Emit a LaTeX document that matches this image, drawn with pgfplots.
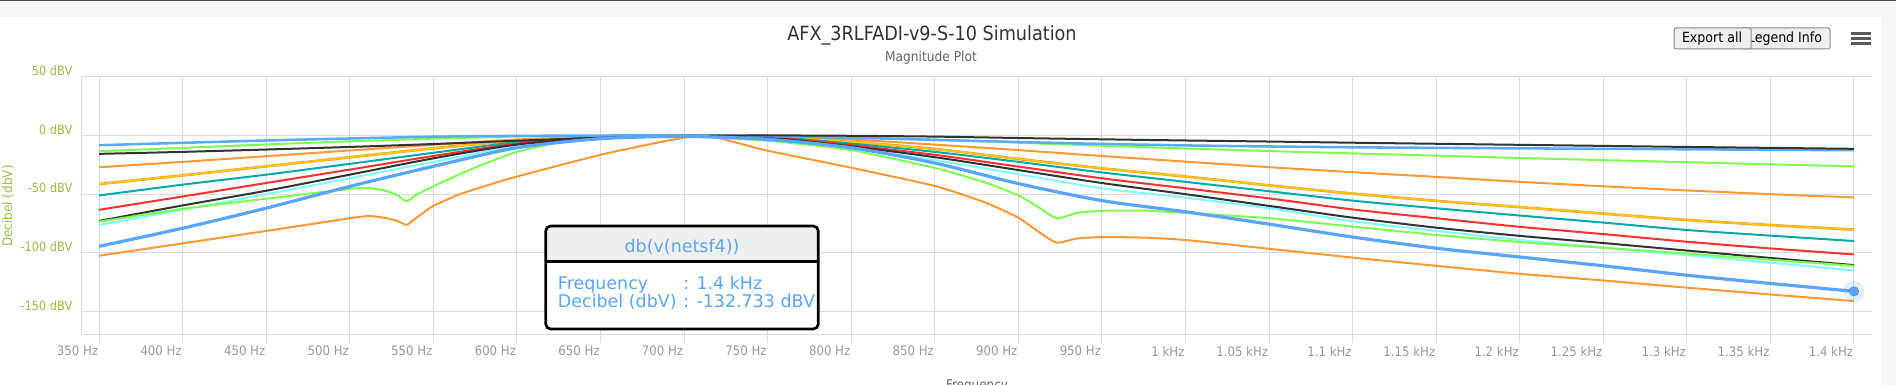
\documentclass[border=0pt]{standalone}
\usepackage{fontspec}
\setmainfont{DejaVu Sans}[FakeStretch=0.9]
\newfontfamily\tipfont{DejaVu Sans}
\usepackage{pgfplots}
\pgfplotsset{compat=1.18}
\definecolor{gridcol}{HTML}{D6DCE4}
\definecolor{ylabcol}{HTML}{9CBD45}
\definecolor{xlabcol}{HTML}{9A9A9A}
\definecolor{cLB}{HTML}{5AAAFF}
\definecolor{cBlk}{HTML}{333333}
\definecolor{cGrn}{HTML}{7DFF50}
\definecolor{cOr}{HTML}{FF9933}
\definecolor{cYel}{HTML}{FFCC00}
\definecolor{cTeal}{HTML}{00AAAA}
\definecolor{cRed}{HTML}{FF3030}
\definecolor{cCyan}{HTML}{80FFFF}
\definecolor{cBlue}{HTML}{5AA5FF}
\definecolor{cBlueDk}{HTML}{5A90D8}
\definecolor{headgray}{HTML}{EFEFEF}
\definecolor{topgray}{HTML}{F6F6F6}
\definecolor{btngray}{HTML}{EFEFEF}
\begin{document}
\begin{tikzpicture}
\useasboundingbox (0,0) rectangle (1422pt,288.75pt);
\fill[white] (0,0) rectangle (1422pt,288.75pt);
\begin{scope}[shift={(0pt,288.75pt)}, x=0.75pt, y=-0.75pt]
\fill[topgray] (0,0) rectangle (1896,17);
\fill[black!70] (0,0) rectangle (1896,1.5);
\fill[topgray] (1881,17) rectangle (1896,385);
\end{scope}

\begin{axis}[
  at={(61.275pt,38.025pt)}, anchor=south west,
  scale only axis, width=1343pt, height=193.2pt,
  xmin=339.6, xmax=1411, ymin=-169.3, ymax=50,
  axis x line*=bottom, axis y line*=left,
  axis line style={draw=gridcol, line width=0.75pt, -},
  xtick={350,400,...,1400},
  xticklabels={350 Hz,400 Hz,450 Hz,500 Hz,550 Hz,600 Hz,650 Hz,700 Hz,750 Hz,800 Hz,850 Hz,900 Hz,950 Hz,1 kHz,1.05 kHz,1.1 kHz,1.15 kHz,1.2 kHz,1.25 kHz,1.3 kHz,1.35 kHz,1.4 kHz},
  ytick={-150,-100,-50,0,50},
  yticklabels={-150 dBV,-100 dBV,-50 dBV,0 dBV,50 dBV},
  grid=major, major grid style={draw=gridcol, line width=0.75pt},
  tick align=outside, major tick length=6.75pt,
  xtick style={draw=gridcol, line width=0.75pt},
  ytick style={draw=none},
  xticklabel style={font=\fontsize{9.8pt}{11pt}\selectfont, text=xlabcol, inner sep=0pt, anchor=north east, xshift=-0.5pt, yshift=-2pt},
  yticklabel style={font=\fontsize{9.5pt}{11pt}\selectfont, text=ylabcol, inner sep=0pt, yshift=4.5pt},
  every axis plot/.append style={smooth, tension=0.45, line join=round},
]
% orange 1
\addplot[cOr, line width=1.5pt] coordinates {(350,-27.1)(400,-22.5)(450,-17.7)(500,-12.8)(550,-8.0)(600,-3.5)(650,-0.9)(700,0)(750,-0.6)(800,-3.5)(850,-7.8)(900,-12.5)(950,-17.5)(1000,-22.3)(1050,-27.0)(1100,-31.3)(1150,-35.3)(1200,-39.5)(1250,-43.3)(1300,-46.8)(1350,-50.0)(1400,-52.8)};
% orange 2 (under yellow)
\addplot[cOr, line width=2pt] coordinates {(350,-41.4)(400,-34.0)(450,-26.3)(500,-18.6)(550,-11.0)(600,-4.5)(650,-1.1)(700,-0.1)(750,-0.9)(800,-5.5)(850,-11.5)(900,-20.0)(950,-28.0)(1000,-35.0)(1050,-42.5)(1100,-49.5)(1150,-55.7)(1200,-61.0)(1250,-66.6)(1300,-72.0)(1350,-76.3)(1400,-80.2)};
% yellow
\addplot[cYel, line width=1.1pt] coordinates {(350,-41.4)(400,-34.0)(450,-26.3)(500,-18.6)(550,-11.0)(600,-4.5)(650,-1.1)(700,-0.1)(750,-0.9)(800,-5.5)(850,-11.5)(900,-20.0)(950,-28.0)(1000,-35.0)(1050,-42.5)(1100,-49.5)(1150,-55.7)(1200,-61.0)(1250,-66.6)(1300,-72.0)(1350,-76.3)(1400,-80.2)};
% teal
\addplot[cTeal, line width=1.5pt] coordinates {(350,-51.1)(400,-41.9)(450,-33.4)(500,-24.2)(550,-14.8)(600,-5.8)(650,-1.4)(700,-0.2)(750,-1.1)(800,-7.0)(850,-14.0)(900,-22.5)(950,-31.5)(1000,-39.5)(1050,-47.5)(1100,-55.5)(1150,-62.0)(1200,-68.2)(1250,-74.2)(1300,-80.5)(1350,-85.3)(1400,-89.9)};
% red
\addplot[cRed, line width=1.5pt] coordinates {(350,-63.3)(400,-52.0)(450,-40.5)(500,-29.1)(550,-17.5)(600,-7.0)(650,-1.8)(700,-0.3)(750,-1.4)(800,-8.3)(850,-16.5)(900,-26.5)(950,-36.5)(1000,-45.0)(1050,-53.6)(1100,-63.0)(1150,-70.5)(1200,-77.8)(1250,-84.0)(1300,-90.5)(1350,-96.2)(1400,-101.3)};
% cyan
\addplot[cCyan, line width=1.5pt] coordinates {(350,-76.2)(400,-63.3)(450,-50.0)(500,-36.5)(550,-22.5)(600,-9.0)(650,-2.5)(700,-0.6)(750,-2.6)(800,-11.0)(850,-21.0)(900,-33.0)(950,-45.0)(1000,-53.0)(1050,-62.0)(1100,-73.0)(1150,-81.3)(1200,-89.0)(1250,-95.6)(1300,-101.9)(1350,-108.4)(1400,-115.0)};
% black 2
\addplot[cBlk, line width=1.5pt] coordinates {(350,-72.8)(400,-59.6)(450,-47.1)(500,-33.4)(550,-19.5)(600,-7.8)(650,-2.1)(700,-0.4)(750,-2.0)(800,-9.3)(850,-18.5)(900,-29.5)(950,-40.5)(1000,-50.0)(1050,-60.0)(1100,-70.0)(1150,-78.5)(1200,-85.5)(1250,-91.6)(1300,-98.0)(1350,-104.3)(1400,-110.4)};
% green 2 (notches)
\addplot[cGrn, line width=1.5pt, tension=0.35] coordinates {(350,-73.4)(400,-62.5)(450,-53.9)(500,-45.5)(510,-44.8)(520,-46.5)(528,-50.5)(534,-56.0)(540,-50.5)(550,-43.4)(565,-33.5)(580,-24.5)(600,-14.0)(625,-6.0)(650,-2.6)(700,-0.8)(750,-4.5)(800,-12.5)(850,-27.7)(880,-40.0)(900,-51.0)(912,-61.0)(923,-70.5)(935,-66.0)(950,-64.2)(975,-64.0)(1000,-66.0)(1050,-70.5)(1100,-77.6)(1150,-84.7)(1200,-90.8)(1250,-95.6)(1300,-100.6)(1350,-105.8)(1400,-111.0)};
% orange 3 (notches)
\addplot[cOr, line width=1.5pt, tension=0.35] coordinates {(350,-102.4)(400,-91.9)(450,-81.3)(500,-70.5)(512,-68.6)(522,-70.5)(529,-73.0)(534,-76.2)(540,-70.0)(550,-60.0)(565,-50.5)(580,-43.5)(600,-35.0)(650,-16.5)(690,-4.5)(712,0)(735,-7.5)(750,-13.0)(800,-27.5)(850,-43.0)(880,-57.0)(900,-70.0)(912,-82.0)(923,-91.3)(935,-87.8)(950,-86.5)(975,-87.0)(1000,-89.0)(1050,-96.5)(1100,-104.0)(1150,-111.0)(1200,-117.8)(1250,-123.5)(1300,-129.6)(1350,-135.4)(1400,-141.0)};
% green 1
\addplot[cGrn, line width=1.5pt] coordinates {(350,-13.4)(400,-10.6)(450,-7.7)(500,-5.0)(550,-2.8)(600,-1.0)(650,-0.2)(700,0)(750,-0.3)(800,-1.5)(850,-3.6)(900,-6.2)(950,-8.8)(1000,-11.1)(1050,-13.3)(1100,-15.3)(1150,-17.2)(1200,-19.2)(1250,-21.0)(1300,-22.8)(1350,-24.6)(1400,-26.3)};
% light blue
\addplot[cLB, line width=1.9pt] coordinates {(350,-8.3)(400,-6.3)(450,-4.3)(500,-2.6)(550,-1.1)(600,-0.4)(650,-0.1)(700,0)(750,-0.6)(800,-2.0)(850,-3.8)(900,-5.6)(950,-7.2)(1000,-8.5)(1050,-9.4)(1100,-10.1)(1150,-10.6)(1200,-11.0)(1250,-11.4)(1300,-11.8)(1350,-12.2)(1400,-12.6)};
% black 1
\addplot[cBlk, line width=1.5pt] coordinates {(350,-15.7)(400,-14.0)(450,-12.0)(500,-9.8)(550,-7.3)(600,-4.5)(650,-2.0)(700,-0.5)(750,0)(800,-0.3)(850,-1.0)(900,-2.2)(950,-3.3)(1000,-4.3)(1050,-5.2)(1100,-6.2)(1150,-7.1)(1200,-8.0)(1250,-8.9)(1300,-9.8)(1350,-10.6)(1400,-11.4)};
% blue db(v(netsf4)) hovered
\addplot[cBlue, line width=2.4pt] coordinates {(350,-94.4)(400,-79.0)(450,-61.9)(500,-43.4)(550,-26.3)(600,-10.5)(650,-2.8)(700,-0.8)(750,-3.4)(800,-10.5)(850,-23.5)(900,-41.0)(950,-55.5)(1000,-65.0)(1050,-75.5)(1100,-86.5)(1150,-96.0)(1200,-103.5)(1250,-111.0)(1300,-119.0)(1350,-126.0)(1400,-132.733)};
\addplot[cBlue, only marks, mark=*, mark size=7.5pt, mark options={fill=cBlue, draw=cBlue, opacity=0.18}] coordinates {(1400,-132.733)};
\addplot[cBlueDk, only marks, mark=*, mark size=3.5pt, mark options={fill=cBlue, draw=cBlueDk, line width=0.5pt}] coordinates {(1400,-132.733)};
\end{axis}

\begin{scope}[shift={(0pt,288.75pt)}, x=0.75pt, y=-0.75pt]
% title and subtitle
\node[anchor=base, text=black!80, inner sep=0pt, font=\fontsize{14.7pt}{17pt}\selectfont] at (932,41) {AFX\_3RLFADI-v9-S-10 Simulation};
\node[anchor=base, text=black!60, inner sep=0pt, font=\fontsize{10.2pt}{12pt}\selectfont] at (931,62) {Magnitude Plot};
% buttons
\draw[draw=black!45, fill=btngray, rounded corners=1.5pt, line width=0.75pt] (1740,28) rectangle (1830,49);
\node[anchor=base, inner sep=0pt, font=\fontsize{10.5pt}{12pt}\selectfont] at (1785,43) {Legend Info};
\draw[draw=black!45, fill=btngray, rounded corners=1.5pt, line width=0.75pt] (1674,28) rectangle (1751,49);
\node[anchor=base, inner sep=0pt, font=\fontsize{10.5pt}{12pt}\selectfont] at (1712,43) {Export all};
% menu icon
\foreach \yy in {33.5,38.5,43.5} {\draw[black!65, line width=2.2pt] (1851,\yy) -- (1871,\yy);}
% axis titles
\node[anchor=center, rotate=90, text=ylabcol, inner sep=0pt, font=\fontsize{10pt}{12pt}\selectfont] at (8,206) {Decibel (dbV)};
\node[anchor=base, text=black!60, inner sep=0pt, font=\fontsize{10pt}{12pt}\selectfont] at (977,390) {Frequency};
% tooltip
\fill[white, rounded corners=3.75pt] (545.7,226) rectangle (818.3,329);
\begin{scope}
\clip[rounded corners=3.75pt] (545.7,226) rectangle (818.3,329);
\fill[headgray] (545.7,226) rectangle (818.3,261.7);
\end{scope}
\draw[black, line width=2pt] (545.7,261.7) -- (818.3,261.7);
\draw[black, line width=2pt, rounded corners=3.75pt] (545.7,226) rectangle (818.3,329);
\node[anchor=base, text=cBlue, inner sep=0pt, font=\tipfont\fontsize{13.1pt}{15pt}\selectfont] at (682,253) {db(v(netsf4))};
\node[anchor=base west, text=cBlue, inner sep=0pt, font=\tipfont\fontsize{13.1pt}{15pt}\selectfont] at (557.7,289.3) {Frequency};
\node[anchor=base west, text=cBlue, inner sep=0pt, font=\tipfont\fontsize{13.1pt}{15pt}\selectfont] at (557.7,307.3) {Decibel (dbV)};
\node[anchor=base west, text=cBlue, inner sep=0pt, font=\tipfont\fontsize{13.1pt}{15pt}\selectfont] at (683,289.3) {: 1.4 kHz};
\node[anchor=base west, text=cBlue, inner sep=0pt, font=\tipfont\fontsize{13.1pt}{15pt}\selectfont] at (683,307.3) {: -132.733 dBV};
\end{scope}
\end{tikzpicture}
\end{document}
